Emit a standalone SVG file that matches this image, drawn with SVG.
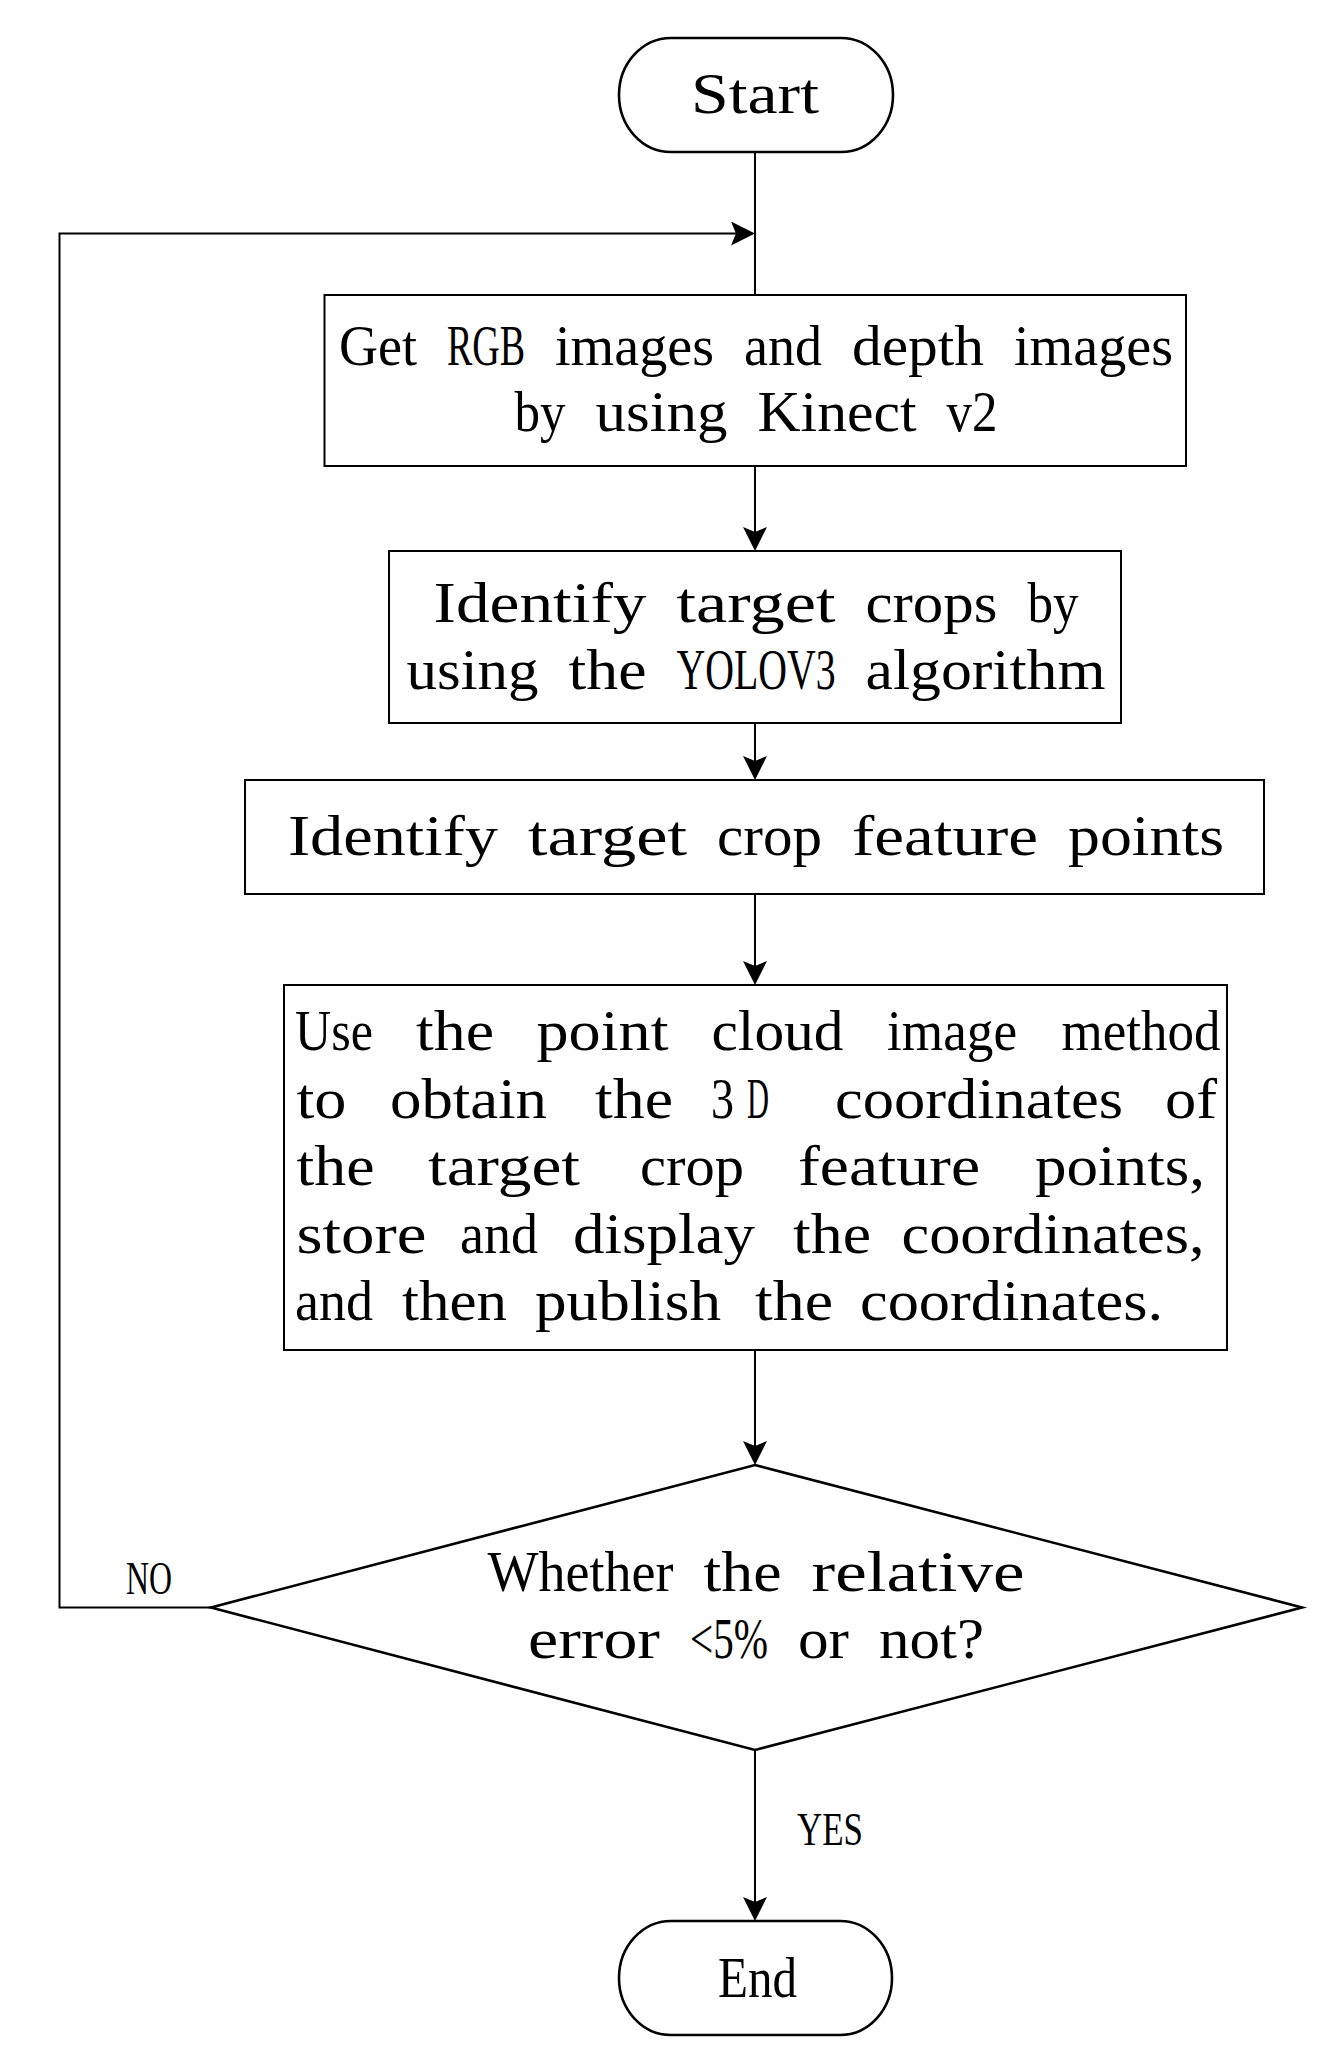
<svg xmlns="http://www.w3.org/2000/svg" width="1326" height="2069" viewBox="0 0 1326 2069">
<style>
.shape{fill:#fff;stroke:#000;stroke-width:2}
.term{fill:#fff;stroke:#000;stroke-width:2.6}
.dia{fill:#fff;stroke:#000;stroke-width:2.6}
.conn{fill:none;stroke:#000;stroke-width:2}
text{font-family:"Liberation Serif","Times New Roman",serif;font-size:56px;fill:#000}
.lbl{font-size:47px}
</style>
<defs>
<marker id="ah" viewBox="-14 -12 24 24" refX="0" refY="0" markerWidth="24" markerHeight="24" markerUnits="userSpaceOnUse" orient="auto">
<path d="M10,0 L-14,-12 L-9,0 L-14,12 Z" fill="#000"/>
</marker>
</defs>
<rect width="1326" height="2069" fill="#fff"/>

<g id="connectors">
<line class="conn" x1="755" y1="152" x2="755" y2="295"/>
<polyline class="conn" points="211,1607.5 59.5,1607.5 59.5,233.5 745,233.5" marker-end="url(#ah)"/>
<line class="conn" x1="755" y1="466" x2="755" y2="541" marker-end="url(#ah)"/>
<line class="conn" x1="755" y1="723" x2="755" y2="770" marker-end="url(#ah)"/>
<line class="conn" x1="755" y1="894" x2="755" y2="975" marker-end="url(#ah)"/>
<line class="conn" x1="755" y1="1350" x2="755" y2="1455" marker-end="url(#ah)"/>
<line class="conn" x1="755" y1="1750" x2="755" y2="1911" marker-end="url(#ah)"/>
<text class="lbl" x="126" y="1594" textLength="46" lengthAdjust="spacingAndGlyphs">NO</text>
<text class="lbl" x="797" y="1845" textLength="66" lengthAdjust="spacingAndGlyphs">YES</text>
</g>

<g id="start">
<rect class="term" x="619" y="38" width="274" height="114" rx="52" ry="57"/>
<text x="691" y="113" textLength="128" lengthAdjust="spacingAndGlyphs">Start</text>
</g>

<g id="get-images">
<rect class="shape" x="324.5" y="295" width="861.5" height="171"/>
<text x="339" y="365" textLength="78" lengthAdjust="spacingAndGlyphs">Get</text>
<text transform="translate(447,365) scale(0.68,1)" x="0" y="0" textLength="115" lengthAdjust="spacingAndGlyphs">RGB</text>
<text x="555" y="365" textLength="159" lengthAdjust="spacingAndGlyphs">images</text>
<text x="744" y="365" textLength="78" lengthAdjust="spacingAndGlyphs">and</text>
<text x="852" y="365" textLength="132" lengthAdjust="spacingAndGlyphs">depth</text>
<text x="1014" y="365" textLength="159" lengthAdjust="spacingAndGlyphs">images</text>
<text x="514.5" y="431" textLength="51" lengthAdjust="spacingAndGlyphs">by</text>
<text x="595.5" y="431" textLength="132" lengthAdjust="spacingAndGlyphs">using</text>
<text x="757.5" y="431" textLength="159" lengthAdjust="spacingAndGlyphs">Kinect</text>
<text x="946.5" y="431" textLength="51" lengthAdjust="spacingAndGlyphs">v2</text>
</g>

<g id="identify-crops">
<rect class="shape" x="389" y="551" width="732" height="172"/>
<text x="433.5" y="622" textLength="213" lengthAdjust="spacingAndGlyphs">Identify</text>
<text x="676.5" y="622" textLength="159" lengthAdjust="spacingAndGlyphs">target</text>
<text x="865.5" y="622" textLength="132" lengthAdjust="spacingAndGlyphs">crops</text>
<text x="1027.5" y="622" textLength="51" lengthAdjust="spacingAndGlyphs">by</text>
<text x="406.5" y="689" textLength="132" lengthAdjust="spacingAndGlyphs">using</text>
<text x="568.5" y="689" textLength="78" lengthAdjust="spacingAndGlyphs">the</text>
<text transform="translate(676.5,689) scale(0.71,1)" x="0" y="0" textLength="224" lengthAdjust="spacingAndGlyphs">YOLOV3</text>
<text x="865.5" y="689" textLength="240" lengthAdjust="spacingAndGlyphs">algorithm</text>
</g>

<g id="feature-points">
<rect class="shape" x="245" y="780" width="1019" height="114"/>
<text x="288" y="855" textLength="210" lengthAdjust="spacingAndGlyphs">Identify</text>
<text x="528" y="855" textLength="159" lengthAdjust="spacingAndGlyphs">target</text>
<text x="717" y="855" textLength="105" lengthAdjust="spacingAndGlyphs">crop</text>
<text x="852" y="855" textLength="186" lengthAdjust="spacingAndGlyphs">feature</text>
<text x="1068" y="855" textLength="156" lengthAdjust="spacingAndGlyphs">points</text>
</g>

<g id="point-cloud">
<rect class="shape" x="284" y="985" width="943" height="365"/>
<text x="295" y="1050" textLength="78" lengthAdjust="spacingAndGlyphs">Use</text>
<text x="416" y="1050" textLength="78" lengthAdjust="spacingAndGlyphs">the</text>
<text x="536.5" y="1050" textLength="132" lengthAdjust="spacingAndGlyphs">point</text>
<text x="711.5" y="1050" textLength="132" lengthAdjust="spacingAndGlyphs">cloud</text>
<text x="887" y="1050" textLength="130" lengthAdjust="spacingAndGlyphs">image</text>
<text x="1061.5" y="1050" textLength="159" lengthAdjust="spacingAndGlyphs">method</text>

<text x="296.5" y="1117.5" textLength="50" lengthAdjust="spacingAndGlyphs">to</text>
<text x="390" y="1117.5" textLength="157" lengthAdjust="spacingAndGlyphs">obtain</text>
<text x="595" y="1117.5" textLength="78" lengthAdjust="spacingAndGlyphs">the</text>
<text x="711" y="1117.5" textLength="23" lengthAdjust="spacingAndGlyphs">3</text>
<text x="747" y="1117.5" textLength="22" lengthAdjust="spacingAndGlyphs">D</text>
<text x="835" y="1117.5" textLength="288" lengthAdjust="spacingAndGlyphs">coordinates</text>
<text x="1165" y="1117.5" textLength="52" lengthAdjust="spacingAndGlyphs">of</text>

<text x="296.5" y="1185" textLength="78" lengthAdjust="spacingAndGlyphs">the</text>
<text x="428" y="1185" textLength="152" lengthAdjust="spacingAndGlyphs">target</text>
<text x="640" y="1185" textLength="104" lengthAdjust="spacingAndGlyphs">crop</text>
<text x="798" y="1185" textLength="182" lengthAdjust="spacingAndGlyphs">feature</text>
<text x="1035" y="1185" textLength="170" lengthAdjust="spacingAndGlyphs">points,</text>

<text x="296.5" y="1252.5" textLength="130" lengthAdjust="spacingAndGlyphs">store</text>
<text x="460" y="1252.5" textLength="78" lengthAdjust="spacingAndGlyphs">and</text>
<text x="573" y="1252.5" textLength="182" lengthAdjust="spacingAndGlyphs">display</text>
<text x="793" y="1252.5" textLength="78" lengthAdjust="spacingAndGlyphs">the</text>
<text x="901.5" y="1252.5" textLength="303" lengthAdjust="spacingAndGlyphs">coordinates,</text>

<text x="295" y="1320" textLength="78" lengthAdjust="spacingAndGlyphs">and</text>
<text x="402" y="1320" textLength="105" lengthAdjust="spacingAndGlyphs">then</text>
<text x="535" y="1320" textLength="186" lengthAdjust="spacingAndGlyphs">publish</text>
<text x="755" y="1320" textLength="78" lengthAdjust="spacingAndGlyphs">the</text>
<text x="860" y="1320" textLength="303" lengthAdjust="spacingAndGlyphs">coordinates.</text>
</g>

<g id="decision">
<polygon class="dia" points="755,1465 1302,1607.5 755,1750 211,1607.5"/>
<text x="487.5" y="1591" textLength="186" lengthAdjust="spacingAndGlyphs">Whether</text>
<text x="703.5" y="1591" textLength="78" lengthAdjust="spacingAndGlyphs">the</text>
<text x="811.5" y="1591" textLength="213" lengthAdjust="spacingAndGlyphs">relative</text>
<text x="528" y="1658" textLength="132" lengthAdjust="spacingAndGlyphs">error</text>
<text x="690" y="1658" textLength="78" lengthAdjust="spacingAndGlyphs">&lt;5%</text>
<text x="798" y="1658" textLength="51" lengthAdjust="spacingAndGlyphs">or</text>
<text x="879" y="1658" textLength="105" lengthAdjust="spacingAndGlyphs">not?</text>
</g>

<g id="end">
<rect class="term" x="619" y="1921" width="273" height="114" rx="52" ry="57"/>
<text x="718" y="1997" textLength="79" lengthAdjust="spacingAndGlyphs">End</text>
</g>
</svg>
